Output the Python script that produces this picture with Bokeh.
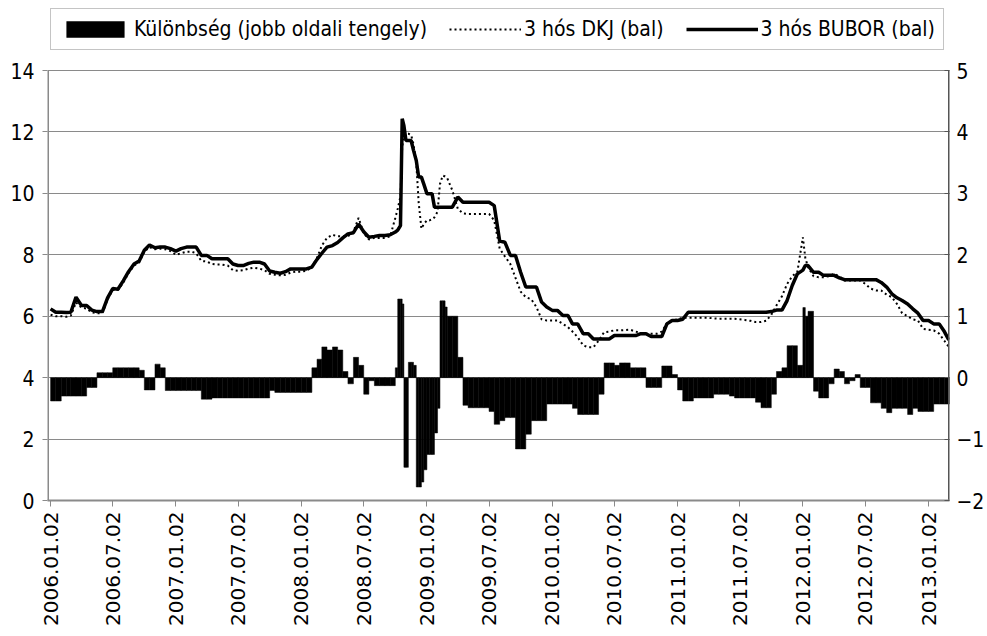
import math
from datetime import datetime
from bokeh.plotting import figure
from bokeh.models import (Range1d, LinearAxis, FixedTicker, DatetimeTickFormatter,
                          Legend, LegendItem, ColumnDataSource)
from bokeh.embed import file_html
from bokeh.resources import INLINE

# ---------------- data ----------------
dates = [
    # 2006
    "2006-01-02", "2006-01-17", "2006-02-02", "2006-02-17", "2006-03-02", "2006-03-17",
    "2006-04-02", "2006-04-17", "2006-05-02", "2006-05-17", "2006-06-02", "2006-06-17",
    "2006-07-02", "2006-07-17", "2006-08-02", "2006-08-17", "2006-09-02", "2006-09-17",
    "2006-10-02", "2006-10-17", "2006-11-02", "2006-11-17", "2006-12-02", "2006-12-17",
    # 2007
    "2007-01-02", "2007-01-17", "2007-02-02", "2007-02-17", "2007-03-02", "2007-03-17",
    "2007-04-02", "2007-04-17", "2007-05-02", "2007-05-17", "2007-06-02", "2007-06-17",
    "2007-07-02", "2007-07-17", "2007-08-02", "2007-08-17", "2007-09-02", "2007-09-17",
    "2007-10-02", "2007-10-17", "2007-11-02", "2007-11-17", "2007-12-02", "2007-12-17",
    # 2008
    "2008-01-02", "2008-01-17", "2008-02-02", "2008-02-17", "2008-03-02", "2008-03-17",
    "2008-04-02", "2008-04-17", "2008-05-02", "2008-05-17", "2008-06-02", "2008-06-17",
    "2008-07-02", "2008-07-17", "2008-08-02", "2008-08-17", "2008-09-02", "2008-09-17",
    "2008-10-02", "2008-10-09", "2008-10-17", "2008-10-22", "2008-10-27", "2008-11-02",
    "2008-11-09", "2008-11-17", "2008-11-24", "2008-12-02", "2008-12-09", "2008-12-17",
    "2008-12-24",
    # 2009
    "2009-01-02", "2009-01-09", "2009-01-17", "2009-01-24", "2009-02-02", "2009-02-09",
    "2009-02-17", "2009-02-24", "2009-03-02", "2009-03-17", "2009-04-02", "2009-04-17",
    "2009-05-02", "2009-05-17", "2009-06-02", "2009-06-17", "2009-07-02", "2009-07-17",
    "2009-08-02", "2009-08-17", "2009-09-02", "2009-09-17", "2009-10-02", "2009-10-17",
    "2009-11-02", "2009-11-17", "2009-12-02", "2009-12-17",
    # 2010
    "2010-01-02", "2010-01-17", "2010-02-02", "2010-02-17", "2010-03-02", "2010-03-17",
    "2010-04-02", "2010-04-17", "2010-05-02", "2010-05-17", "2010-06-02", "2010-06-17",
    "2010-07-02", "2010-07-17", "2010-08-02", "2010-08-17", "2010-09-02", "2010-09-17",
    "2010-10-02", "2010-10-17", "2010-11-02", "2010-11-17", "2010-12-02", "2010-12-17",
    # 2011
    "2011-01-02", "2011-01-17", "2011-02-02", "2011-02-17", "2011-03-02", "2011-03-17",
    "2011-04-02", "2011-04-17", "2011-05-02", "2011-05-17", "2011-06-02", "2011-06-17",
    "2011-07-02", "2011-07-17", "2011-08-02", "2011-08-17", "2011-09-02", "2011-09-17",
    "2011-10-02", "2011-10-17", "2011-11-02", "2011-11-17", "2011-12-02", "2011-12-17",
    # 2012
    "2012-01-02", "2012-01-09", "2012-01-17", "2012-02-02", "2012-02-17", "2012-03-02",
    "2012-03-17", "2012-04-02", "2012-04-17", "2012-05-02", "2012-05-17", "2012-06-02",
    "2012-06-17", "2012-07-02", "2012-07-17", "2012-08-02", "2012-08-17", "2012-09-02",
    "2012-09-17", "2012-10-02", "2012-10-17", "2012-11-02", "2012-11-17", "2012-12-02",
    "2012-12-17",
    # 2013
    "2013-01-02", "2013-01-17", "2013-02-02", "2013-02-17", "2013-03-02",
]

bubor = [
    # 2006
    6.24, 6.13, 6.13, 6.12, 6.13, 6.62, 6.35, 6.35, 6.20, 6.15, 6.15, 6.60,
    6.90, 6.88, 7.16, 7.45, 7.70, 7.80, 8.15, 8.32, 8.23, 8.25, 8.25, 8.20,
    # 2007
    8.12, 8.20, 8.25, 8.25, 8.25, 7.98, 7.98, 7.87, 7.87, 7.87, 7.87, 7.70,
    7.65, 7.65, 7.72, 7.76, 7.76, 7.70, 7.47, 7.43, 7.40, 7.45, 7.54, 7.54,
    # 2008
    7.54, 7.54, 7.60, 7.85, 8.05, 8.25, 8.30, 8.40, 8.55, 8.68, 8.72, 9.00,
    8.75, 8.57, 8.60, 8.63, 8.63, 8.65, 8.74, 8.80, 8.95, 12.43, 12.20, 11.72,
    11.72, 11.72, 11.40, 11.07, 10.53, 10.53, 10.30,
    # 2009
    9.99, 9.99, 9.99, 9.55, 9.55, 9.55, 9.55, 9.55, 9.55, 9.55, 9.88, 9.71,
    9.71, 9.71, 9.71, 9.71, 9.71, 9.60, 8.45, 8.41, 7.98, 7.98, 7.43, 6.95,
    6.95, 6.95, 6.46, 6.30,
    # 2010
    6.19, 6.19, 6.02, 6.02, 5.75, 5.75, 5.43, 5.43, 5.26, 5.26, 5.26, 5.26,
    5.37, 5.37, 5.37, 5.37, 5.37, 5.43, 5.43, 5.34, 5.34, 5.34, 5.75, 5.86,
    # 2011
    5.86, 5.90, 6.13, 6.13, 6.13, 6.13, 6.13, 6.13, 6.13, 6.13, 6.13, 6.13,
    6.13, 6.13, 6.13, 6.13, 6.13, 6.13, 6.15, 6.20, 6.20, 6.51, 7.00, 7.38,
    # 2012
    7.50, 7.65, 7.65, 7.43, 7.43, 7.33, 7.33, 7.33, 7.25, 7.19, 7.19, 7.19,
    7.19, 7.19, 7.19, 7.19, 7.10, 6.95, 6.73, 6.60, 6.51, 6.40, 6.24, 6.10,
    5.86,
    # 2013
    5.86, 5.75, 5.75, 5.50, 5.23,
]

dkj = [
    # 2006
    6.05, 6.00, 6.00, 5.98, 6.02, 6.45, 6.28, 6.25, 6.12, 6.10, 6.10, 6.55,
    6.85, 6.85, 7.10, 7.40, 7.65, 7.75, 8.10, 8.25, 8.18, 8.20, 8.18, 8.12,
    # 2007
    8.00, 8.05, 8.10, 8.10, 8.05, 7.80, 7.78, 7.70, 7.68, 7.68, 7.65, 7.50,
    7.48, 7.50, 7.55, 7.58, 7.55, 7.50, 7.38, 7.35, 7.33, 7.35, 7.42, 7.45,
    # 2008
    7.45, 7.48, 7.60, 7.90, 8.30, 8.55, 8.65, 8.60, 8.60, 8.60, 8.75, 9.20,
    8.70, 8.50, 8.55, 8.55, 8.55, 8.60, 9.20, 9.50, 9.90, 11.50, 11.90, 11.94,
    11.94, 11.90, 11.60, 11.00, 9.70, 8.85, 9.00,
    # 2009
    9.12, 9.12, 9.15, 9.22, 9.40, 10.30, 10.58, 10.55, 10.50, 10.10, 9.50, 9.35,
    9.33, 9.33, 9.33, 9.33, 9.33, 9.12, 8.20, 7.95, 7.70, 7.25, 6.80, 6.62,
    6.55, 6.30, 5.90, 5.86,
    # 2010
    5.86, 5.86, 5.75, 5.64, 5.50, 5.32, 5.05, 4.99, 4.99, 5.20, 5.48, 5.50,
    5.54, 5.54, 5.55, 5.56, 5.50, 5.45, 5.43, 5.43, 5.43, 5.50, 5.77, 5.85,
    # 2011
    5.90, 5.95, 5.95, 5.95, 5.95, 5.95, 5.95, 5.93, 5.92, 5.92, 5.92, 5.92,
    5.90, 5.88, 5.85, 5.81, 5.81, 5.85, 6.05, 6.35, 6.65, 7.05, 7.30, 7.45,
    # 2012
    8.57, 7.90, 7.60, 7.30, 7.27, 7.27, 7.30, 7.38, 7.30, 7.16, 7.16, 7.16,
    7.16, 7.05, 6.90, 6.84, 6.84, 6.70, 6.62, 6.40, 6.10, 6.00, 5.90, 5.86,
    5.59,
    # 2013
    5.56, 5.54, 5.43, 5.20, 5.00,
]

diff = [
    # 2006
    -0.38, -0.38, -0.30, -0.30, -0.30, -0.30, -0.30, -0.16, -0.16, 0.08, 0.08, 0.08,
    0.16, 0.16, 0.16, 0.16, 0.16, 0.12, -0.20, -0.20, 0.22, 0.16, -0.21, -0.21,
    # 2007
    -0.21, -0.21, -0.21, -0.21, -0.21, -0.35, -0.35, -0.33, -0.33, -0.33, -0.33, -0.33,
    -0.33, -0.33, -0.33, -0.33, -0.33, -0.33, -0.21, -0.24, -0.24, -0.24, -0.24, -0.24,
    # 2008
    -0.24, -0.24, 0.16, 0.30, 0.50, 0.45, 0.50, 0.45, 0.10, -0.10, 0.33, 0.20,
    -0.27, -0.05, -0.13, -0.13, -0.13, -0.13, 0.16, 1.28, 1.28, 1.20, -1.46, -1.46,
    0.25, 0.25, 0.20, -1.78, -1.78, -1.70, -1.50,
    # 2009
    -1.25, -1.25, -1.25, -0.90, -0.50, 1.25, 1.25, 1.15, 1.00, 1.00, 0.33, -0.45,
    -0.49, -0.49, -0.49, -0.49, -0.55, -0.76, -0.70, -0.65, -0.65, -1.16, -1.16, -0.92,
    -0.70, -0.70, -0.70, -0.43,
    # 2010
    -0.43, -0.43, -0.43, -0.43, -0.50, -0.60, -0.60, -0.60, -0.60, -0.27, 0.24, 0.24,
    0.20, 0.24, 0.24, 0.16, 0.16, 0.16, -0.16, -0.16, -0.16, 0.19, 0.19, 0.05,
    # 2011
    -0.20, -0.38, -0.38, -0.33, -0.33, -0.33, -0.33, -0.27, -0.27, -0.27, -0.30, -0.33,
    -0.33, -0.33, -0.33, -0.40, -0.49, -0.49, -0.27, 0.10, 0.16, 0.52, 0.52, 0.20,
    # 2012
    1.14, 1.00, 1.08, -0.22, -0.33, -0.33, -0.10, 0.14, 0.10, -0.10, -0.05, 0.05,
    -0.16, -0.16, -0.41, -0.41, -0.50, -0.57, -0.50, -0.50, -0.50, -0.60, -0.50, -0.55,
    -0.55,
    # 2013
    -0.55, -0.43, -0.43, -0.43, -0.43,
]

tick_dates = ["2006-01-02", "2006-07-02", "2007-01-02", "2007-07-02", "2008-01-02",
              "2008-07-02", "2009-01-02", "2009-07-02", "2010-01-02", "2010-07-02",
              "2011-01-02", "2011-07-02", "2012-01-02", "2012-07-02", "2013-01-02"]
left_ticks = [0, 2, 4, 6, 8, 10, 12, 14]
right_ticks = [-2, -1, 0, 1, 2, 3, 4, 5]

label_diff = "Különbség (jobb oldali tengely)"
label_dkj = "3 hós DKJ (bal)"
label_bubor = "3 hós BUBOR (bal)"

# ---------------- layout / style ----------------
NARROW = "DejaVu Sans Condensed"
WIDE = "DejaVu Sans"
GRAY = "#8a8a8a"

W, H = 987, 636
FRAME_TOP = 5          # frame starts near the top so the legend lies inside it
ZERO_PX = 500          # pixel row of value 0
TOP_PX = 70            # pixel row of value 14
LEFT_MAX = 14
y_end = LEFT_MAX * (ZERO_PX - FRAME_TOP) / (ZERO_PX - TOP_PX)
r_end = (y_end - 4) / 2  # right axis: 0 <-> 4 on left, 1 unit <-> 2 left units

dt = [datetime.strptime(d, "%Y-%m-%d") for d in dates]
x_start = datetime(2005, 12, 24)
x_end = datetime(2013, 3, 4)

src_lines = ColumnDataSource(dict(x=dt, bubor=bubor, dkj=dkj))
src_bars = ColumnDataSource(dict(left=dt, right=dt[1:] + [x_end], top=diff,
                                 bottom=[0] * len(diff)))

p = figure(width=W, height=H, output_backend="svg", toolbar_location=None,
           title=None, x_axis_type="datetime", x_range=Range1d(x_start, x_end),
           y_range=Range1d(0, y_end),
           min_border_left=47, min_border_right=34, min_border_top=FRAME_TOP,
           min_border_bottom=H - ZERO_PX)
p.extra_y_ranges = {"right": Range1d(-2, r_end)}
p.outline_line_color = None
p.background_fill_color = "white"
p.border_fill_color = "white"

bars = p.quad(left="left", right="right", top="top", bottom="bottom", source=src_bars,
              y_range_name="right", fill_color="black", line_color="black",
              line_width=0.5)
r_dkj = p.line("x", "dkj", source=src_lines, line_color="black", line_width=2,
               line_dash="2 3")
r_bubor = p.line("x", "bubor", source=src_lines, line_color="black", line_width=3.5)

# vertical axis lines only over the 0..14 span
p.segment(x0=[x_start], y0=[0], x1=[x_start], y1=[LEFT_MAX], line_color=GRAY,
          line_width=3)
p.segment(x0=[x_end], y0=[0], x1=[x_end], y1=[LEFT_MAX], line_color="#555555",
          line_width=3)

# grid
p.xgrid.visible = False
p.ygrid.ticker = FixedTicker(ticks=left_ticks)
p.ygrid.grid_line_color = GRAY
p.ygrid.grid_line_width = 1

# bottom axis
xa = p.xaxis[0]
xa.ticker = FixedTicker(ticks=[datetime.strptime(t, "%Y-%m-%d").timestamp() * 1000
                               for t in tick_dates])
fmt = "%Y.%m.%d"
xa.formatter = DatetimeTickFormatter(microseconds=fmt, milliseconds=fmt, seconds=fmt,
                                     minsec=fmt, minutes=fmt, hourmin=fmt, hours=fmt,
                                     days=fmt, months=fmt, years=fmt)
xa.major_label_orientation = math.pi / 2
xa.major_label_text_font = WIDE
xa.major_label_text_font_size = "20px"
xa.major_label_text_color = "black"
xa.axis_line_color = GRAY
xa.axis_line_width = 2
xa.major_tick_line_color = GRAY
xa.major_tick_out = 6
xa.major_tick_in = 0
xa.minor_tick_line_color = None
xa.major_label_standoff = 5

# left axis
ya = p.yaxis[0]
ya.ticker = FixedTicker(ticks=left_ticks)
ya.major_label_text_font = NARROW
ya.major_label_text_font_size = "21px"
ya.major_label_text_color = "black"
ya.axis_line_color = None
ya.major_tick_line_color = GRAY
ya.major_tick_out = 5
ya.major_tick_in = 0
ya.minor_tick_line_color = None
ya.major_label_standoff = 8

# right axis
ra = LinearAxis(y_range_name="right", ticker=FixedTicker(ticks=right_ticks))
ra.major_label_text_font = NARROW
ra.major_label_text_font_size = "21px"
ra.major_label_text_color = "black"
ra.axis_line_color = None
ra.major_tick_line_color = "#555555"
ra.major_tick_out = 0
ra.major_tick_in = 5
ra.minor_tick_line_color = None
ra.major_label_standoff = 7
p.add_layout(ra, "right")

# legend (inside the frame, above the 14 grid line)
legend = Legend(items=[LegendItem(label=label_diff, renderers=[bars]),
                       LegendItem(label=label_dkj, renderers=[r_dkj]),
                       LegendItem(label=label_bubor, renderers=[r_bubor])],
                location=(3, ZERO_PX - 50), orientation="horizontal")
legend.label_text_font = NARROW
legend.label_text_font_size = "21px"
legend.label_text_color = "black"
legend.glyph_width = 72
legend.glyph_height = 20
legend.label_standoff = 3
legend.spacing = 22
legend.padding = 8
legend.margin = 0
legend.border_line_color = GRAY
legend.border_line_width = 1
legend.background_fill_color = "white"
legend.background_fill_alpha = 1
p.add_layout(legend)

open("out.html", "w").write(file_html(p, INLINE))
